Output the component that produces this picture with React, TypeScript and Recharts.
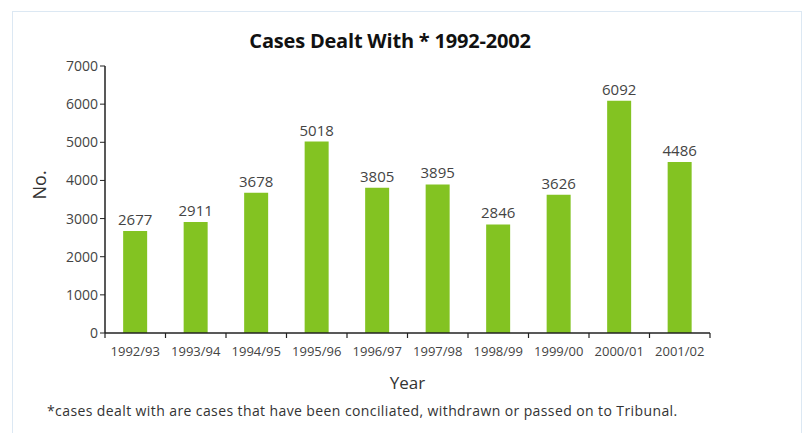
import React from "react";
import { BarChart, Bar, XAxis, YAxis, LabelList, Label } from "recharts";

const years = ["1992/93", "1993/94", "1994/95", "1995/96", "1996/97", "1997/98", "1998/99", "1999/00", "2000/01", "2001/02"];
const cases = [2677, 2911, 3678, 5018, 3805, 3895, 2846, 3626, 6092, 4486];
const yTicks = [0, 1000, 2000, 3000, 4000, 5000, 6000, 7000];

const data = years.map((y, i) => ({ year: y, cases: cases[i] }));

const FONT = "'Open Sans', 'DejaVu Sans', sans-serif";
const TICK_MARGIN = 14;

function YearTick(props: any) {
  const { x, y, payload, index, visibleTicksCount } = props;
  const half = payload && typeof payload.offset === "number" ? payload.offset : 30.25;
  const axisY = y - TICK_MARGIN;
  const isLast = index === (visibleTicksCount ?? years.length) - 1;
  return (
    <g>
      <line x1={x - half} x2={x - half} y1={axisY} y2={axisY + 5} stroke="#222" strokeWidth={1.2} />
      {isLast && <line x1={x + half} x2={x + half} y1={axisY} y2={axisY + 5} stroke="#222" strokeWidth={1.2} />}
      <text x={x} y={y} dy="0.71em" textAnchor="middle" fontSize={13} fill="#444" fontFamily={FONT}>
        {payload.value}
      </text>
    </g>
  );
}

export default function App() {
  return (
    <div style={{ position: "absolute", left: 0, top: 0, width: 807, height: 433, background: "#fff", overflow: "hidden", fontFamily: FONT }}>
      <div style={{ position: "absolute", left: 12, top: 11, width: 790, height: 440, border: "1px solid #dce8f3", boxSizing: "border-box" }} />
      <div style={{ position: "absolute", left: 0, width: 780, top: 27, textAlign: "center", fontSize: 20, fontWeight: 700, color: "#111", letterSpacing: -0.2 }}>
        Cases Dealt With * 1992-2002
      </div>
      <div style={{ position: "absolute", left: 47, top: 401, fontSize: 14, color: "#333", letterSpacing: 0.4 }}>
        *cases dealt with are cases that have been conciliated, withdrawn or passed on to Tribunal.
      </div>
      <div style={{ position: "absolute", left: 0, top: 0 }}>
        <BarChart width={807} height={433} data={data} margin={{ top: 66, right: 97, bottom: 42, left: 30 }} barCategoryGap="30%">
          <XAxis
            dataKey="year"
            type="category"
            axisLine={{ stroke: "#222", strokeWidth: 1.5 }}
            tickLine={false}
            tickSize={0}
            tickMargin={TICK_MARGIN}
            interval={0}
            height={58}
            tick={<YearTick />}
          >
            <Label value="Year" position="insideBottom" offset={2} style={{ fontSize: 17, fill: "#333", fontFamily: FONT }} />
          </XAxis>
          <YAxis
            domain={[0, 7000]}
            ticks={yTicks}
            interval={0}
            width={75}
            axisLine={{ stroke: "#222", strokeWidth: 1.5 }}
            tickLine={{ stroke: "#222" }}
            tickSize={5}
            tick={{ fontSize: 14, fill: "#444", fontFamily: FONT }}
          >
            <Label value="No." angle={-90} position="insideLeft" offset={10} style={{ fontSize: 18, fill: "#333", fontFamily: FONT }} />
          </YAxis>
          <Bar dataKey="cases" fill="#83c322" isAnimationActive={false}>
            <LabelList dataKey="cases" position="top" offset={6} style={{ fontSize: 15, fill: "#444", fontFamily: FONT }} />
          </Bar>
        </BarChart>
      </div>
    </div>
  );
}
